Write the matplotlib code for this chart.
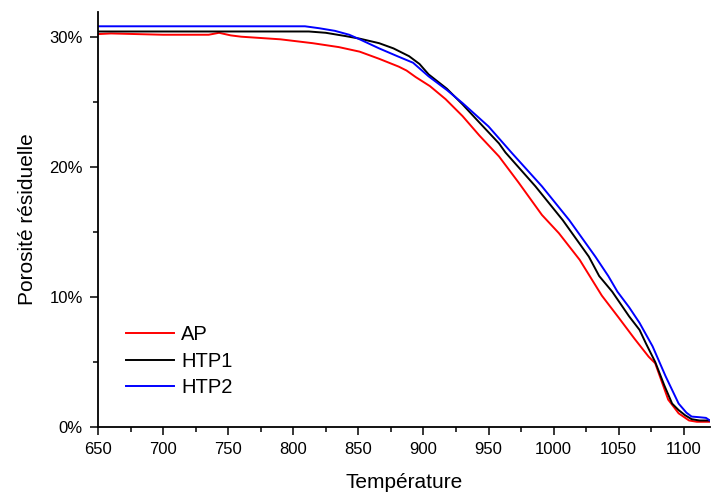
import matplotlib
matplotlib.use("Agg")
import matplotlib.pyplot as plt
from matplotlib.ticker import MultipleLocator, PercentFormatter

plt.rcParams['font.family'] = ['Liberation Sans', 'DejaVu Sans']

# AP (red)
t_ap = [650, 660, 700, 735, 743, 752, 760, 790, 815, 835, 851, 866, 881, 887,
        894, 905, 917, 930, 943, 958, 973, 991, 1004, 1020, 1037, 1050, 1062,
        1073, 1078, 1083, 1088, 1096, 1104, 1110, 1120]
p_ap = [30.2, 30.25, 30.15, 30.15, 30.3, 30.1, 30.0, 29.8, 29.5, 29.2, 28.85,
        28.3, 27.7, 27.4, 26.9, 26.2, 25.2, 23.9, 22.4, 20.8, 18.8, 16.3, 14.9,
        12.85, 10.1, 8.4, 6.8, 5.4, 4.9, 3.5, 2.1, 1.05, 0.5, 0.4, 0.4]

# HTP1 (black)
t_htp1 = [650, 812, 825, 840, 851, 866, 877, 889, 897, 904, 918, 930, 943, 958,
          963, 986, 1007, 1027, 1035, 1045, 1058, 1066, 1071, 1078, 1085, 1091,
          1096, 1101, 1106, 1112, 1120]
p_htp1 = [30.4, 30.4, 30.3, 30.05, 29.85, 29.5, 29.1, 28.5, 27.9, 27.1, 26.0,
          24.8, 23.4, 21.8, 21.1, 18.5, 15.9, 13.1, 11.6, 10.4, 8.5, 7.46, 6.4,
          5.0, 3.2, 1.8, 1.3, 0.9, 0.6, 0.5, 0.5]

# HTP2 (blue)
t_htp2 = [650, 809, 820, 832, 843, 851, 866, 880, 892, 904, 918, 930, 950, 968,
          991, 1012, 1032, 1042, 1049, 1058, 1066, 1076, 1086, 1096, 1102, 1106,
          1112, 1117, 1120]
p_htp2 = [30.8, 30.8, 30.65, 30.45, 30.15, 29.8, 29.1, 28.5, 28.0, 26.95, 25.9,
          24.9, 23.1, 21.05, 18.5, 15.9, 13.1, 11.6, 10.4, 9.2, 8.0, 6.2, 3.9,
          1.8, 1.1, 0.8, 0.75, 0.7, 0.5]

fig = plt.figure(figsize=(7.12, 4.95), dpi=100)
ax = fig.add_axes([0.1376, 0.1374, 0.8594, 0.8384])

ax.plot(t_ap, p_ap, color="#ff0000", lw=1.4, label="AP")
ax.plot(t_htp1, p_htp1, color="#000000", lw=1.4, label="HTP1")
ax.plot(t_htp2, p_htp2, color="#0000ff", lw=1.4, label="HTP2")

ax.set_xlim(650, 1120)
ax.set_ylim(0, 31.9)
ax.xaxis.set_major_locator(MultipleLocator(50))
ax.xaxis.set_minor_locator(MultipleLocator(25))
ax.yaxis.set_major_locator(MultipleLocator(10))
ax.yaxis.set_minor_locator(MultipleLocator(5))
ax.yaxis.set_major_formatter(PercentFormatter(xmax=100, decimals=0))

for s in ("top", "right"):
    ax.spines[s].set_visible(False)
for s in ("left", "bottom"):
    ax.spines[s].set_linewidth(1.3)
ax.tick_params(which="major", direction="out", length=5.5, width=1.1,
               labelsize=12)
ax.tick_params(axis="x", which="major", pad=5.5)
ax.tick_params(axis="y", which="major", pad=5.5)
ax.tick_params(which="minor", direction="out", length=3.5, width=1.1)

ax.set_xlabel("Température", fontsize=15, labelpad=11)
ax.set_ylabel("Porosité résiduelle", fontsize=15)
ax.yaxis.set_label_coords(-0.10, 0.5)

ax.legend(loc="upper left", bbox_to_anchor=(0.045, 0.245), frameon=False,
          fontsize=14.5, handlelength=2.4, handletextpad=0.35,
          labelspacing=0.37, borderaxespad=0, borderpad=0)

fig.savefig("out.png", dpi=100)
